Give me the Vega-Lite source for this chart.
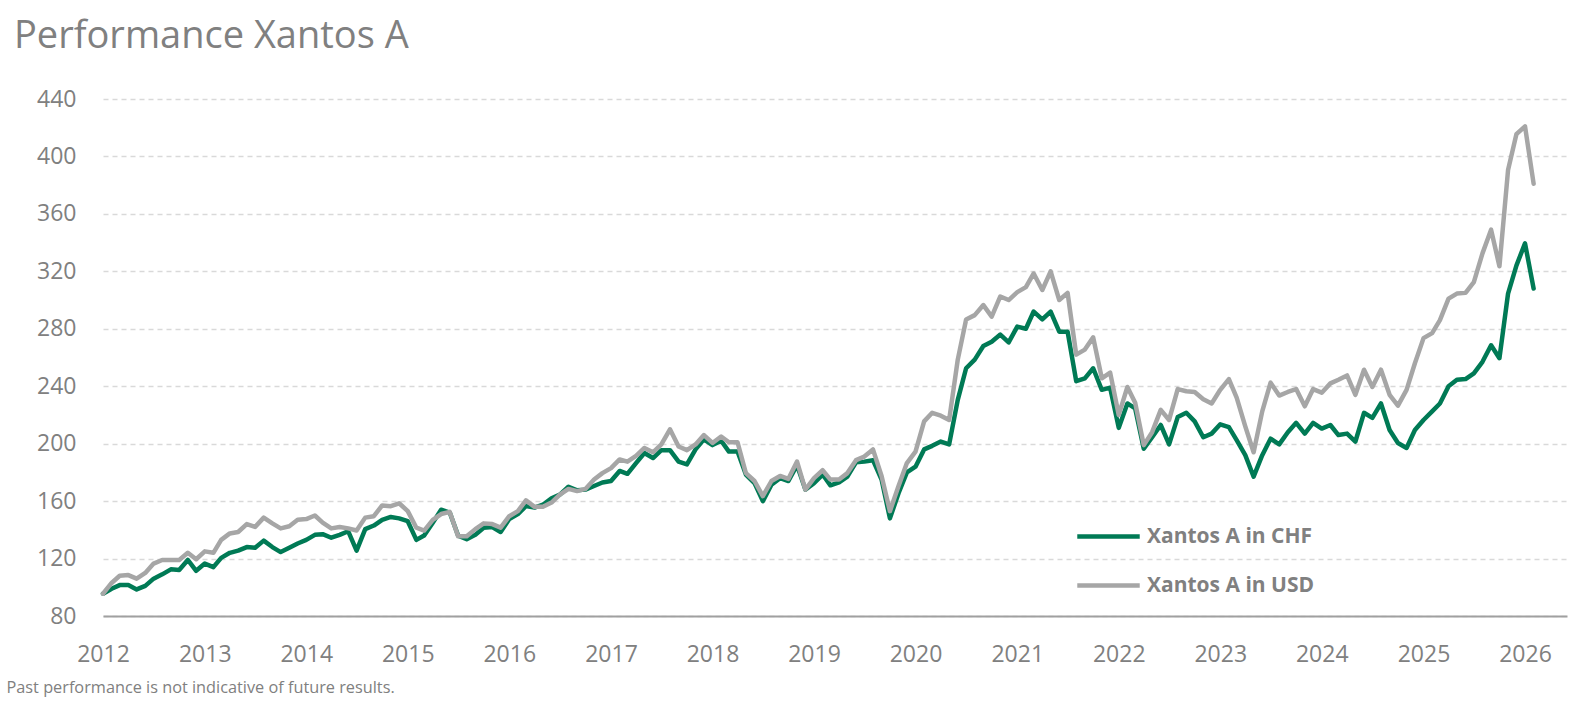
{
  "$schema": "https://vega.github.io/schema/vega-lite/v6.json",
  "width": 1464,
  "height": 517,
  "autosize": {"type": "none"},
  "padding": {"left": 103, "top": 99, "right": 15, "bottom": 85},
  "background": "white",
  "config": {"font": "Open Sans", "view": {"stroke": null}},
  "title": {
    "text": "Performance Xantos A",
    "anchor": "start",
    "frame": "group",
    "dx": -89,
    "offset": 32,
    "fontSize": 38,
    "fontWeight": "normal",
    "color": "#808080",
    "font": "Open Sans"
  },
  "data": {
    "values": [
      {"d": "2012-01", "CHF": 95.5, "USD": 95.5},
      {"d": "2012-02", "CHF": 99, "USD": 103},
      {"d": "2012-03", "CHF": 101.5, "USD": 108},
      {"d": "2012-04", "CHF": 101.5, "USD": 108.5},
      {"d": "2012-05", "CHF": 98.5, "USD": 106},
      {"d": "2012-06", "CHF": 101, "USD": 110},
      {"d": "2012-07", "CHF": 106, "USD": 116.5},
      {"d": "2012-08", "CHF": 109, "USD": 119},
      {"d": "2012-09", "CHF": 112.5, "USD": 119},
      {"d": "2012-10", "CHF": 112, "USD": 119},
      {"d": "2012-11", "CHF": 119, "USD": 124},
      {"d": "2012-12", "CHF": 111.5, "USD": 119.5},
      {"d": "2013-01", "CHF": 116.5, "USD": 125},
      {"d": "2013-02", "CHF": 114, "USD": 124},
      {"d": "2013-03", "CHF": 120.5, "USD": 133},
      {"d": "2013-04", "CHF": 124, "USD": 137.5},
      {"d": "2013-05", "CHF": 125.5, "USD": 138.5},
      {"d": "2013-06", "CHF": 128, "USD": 144},
      {"d": "2013-07", "CHF": 127.5, "USD": 142},
      {"d": "2013-08", "CHF": 132.5, "USD": 148.5},
      {"d": "2013-09", "CHF": 128, "USD": 144.5},
      {"d": "2013-10", "CHF": 124.5, "USD": 141},
      {"d": "2013-11", "CHF": 127.5, "USD": 142.5},
      {"d": "2013-12", "CHF": 130.5, "USD": 147},
      {"d": "2014-01", "CHF": 133, "USD": 147.5},
      {"d": "2014-02", "CHF": 136.5, "USD": 150},
      {"d": "2014-03", "CHF": 137, "USD": 145},
      {"d": "2014-04", "CHF": 134.5, "USD": 141},
      {"d": "2014-05", "CHF": 136.5, "USD": 142},
      {"d": "2014-06", "CHF": 139, "USD": 141},
      {"d": "2014-07", "CHF": 125.5, "USD": 139.5},
      {"d": "2014-08", "CHF": 140.5, "USD": 148.5},
      {"d": "2014-09", "CHF": 143, "USD": 149.5},
      {"d": "2014-10", "CHF": 147, "USD": 157},
      {"d": "2014-11", "CHF": 149, "USD": 156.5},
      {"d": "2014-12", "CHF": 148, "USD": 158.5},
      {"d": "2015-01", "CHF": 146, "USD": 153},
      {"d": "2015-02", "CHF": 133, "USD": 141.5},
      {"d": "2015-03", "CHF": 136, "USD": 139.5},
      {"d": "2015-04", "CHF": 145, "USD": 147},
      {"d": "2015-05", "CHF": 154, "USD": 151},
      {"d": "2015-06", "CHF": 152, "USD": 152.5},
      {"d": "2015-07", "CHF": 136, "USD": 135.5},
      {"d": "2015-08", "CHF": 133.5, "USD": 135.5},
      {"d": "2015-09", "CHF": 136.5, "USD": 140.5},
      {"d": "2015-10", "CHF": 141.5, "USD": 144.5},
      {"d": "2015-11", "CHF": 142, "USD": 144},
      {"d": "2015-12", "CHF": 138.5, "USD": 141.5},
      {"d": "2016-01", "CHF": 147.5, "USD": 149.5},
      {"d": "2016-02", "CHF": 151, "USD": 153},
      {"d": "2016-03", "CHF": 156.5, "USD": 160.5},
      {"d": "2016-04", "CHF": 155.5, "USD": 156},
      {"d": "2016-05", "CHF": 157.5, "USD": 156},
      {"d": "2016-06", "CHF": 162, "USD": 159},
      {"d": "2016-07", "CHF": 164.5, "USD": 164.5},
      {"d": "2016-08", "CHF": 170, "USD": 168.5},
      {"d": "2016-09", "CHF": 167.5, "USD": 167},
      {"d": "2016-10", "CHF": 168, "USD": 168.5},
      {"d": "2016-11", "CHF": 170.5, "USD": 175},
      {"d": "2016-12", "CHF": 173, "USD": 179.5},
      {"d": "2017-01", "CHF": 174, "USD": 183},
      {"d": "2017-02", "CHF": 181, "USD": 189},
      {"d": "2017-03", "CHF": 179, "USD": 187.5},
      {"d": "2017-04", "CHF": 186.5, "USD": 191.5},
      {"d": "2017-05", "CHF": 193.5, "USD": 197},
      {"d": "2017-06", "CHF": 190, "USD": 194},
      {"d": "2017-07", "CHF": 195.5, "USD": 199.5},
      {"d": "2017-08", "CHF": 195.5, "USD": 210},
      {"d": "2017-09", "CHF": 187.5, "USD": 198},
      {"d": "2017-10", "CHF": 185.5, "USD": 195.5},
      {"d": "2017-11", "CHF": 196, "USD": 199.5},
      {"d": "2017-12", "CHF": 203, "USD": 206},
      {"d": "2018-01", "CHF": 199, "USD": 200.5},
      {"d": "2018-02", "CHF": 202, "USD": 205},
      {"d": "2018-03", "CHF": 194.5, "USD": 201},
      {"d": "2018-04", "CHF": 194.5, "USD": 201},
      {"d": "2018-05", "CHF": 178.5, "USD": 179.5},
      {"d": "2018-06", "CHF": 172.5, "USD": 174},
      {"d": "2018-07", "CHF": 160, "USD": 163.5},
      {"d": "2018-08", "CHF": 171.5, "USD": 174},
      {"d": "2018-09", "CHF": 176, "USD": 177.5},
      {"d": "2018-10", "CHF": 174, "USD": 175.5},
      {"d": "2018-11", "CHF": 185, "USD": 187.5},
      {"d": "2018-12", "CHF": 168, "USD": 168},
      {"d": "2019-01", "CHF": 172.5, "USD": 176},
      {"d": "2019-02", "CHF": 178.5, "USD": 181.5},
      {"d": "2019-03", "CHF": 171, "USD": 175},
      {"d": "2019-04", "CHF": 173, "USD": 175},
      {"d": "2019-05", "CHF": 177, "USD": 179.5},
      {"d": "2019-06", "CHF": 187, "USD": 188.5},
      {"d": "2019-07", "CHF": 187.5, "USD": 191},
      {"d": "2019-08", "CHF": 188.5, "USD": 196},
      {"d": "2019-09", "CHF": 175, "USD": 177.5},
      {"d": "2019-10", "CHF": 148, "USD": 153},
      {"d": "2019-11", "CHF": 165.5, "USD": 170.5},
      {"d": "2019-12", "CHF": 180, "USD": 186.5},
      {"d": "2020-01", "CHF": 184, "USD": 194.5},
      {"d": "2020-02", "CHF": 196, "USD": 215.5},
      {"d": "2020-03", "CHF": 198.5, "USD": 221.5},
      {"d": "2020-04", "CHF": 201.5, "USD": 219.5},
      {"d": "2020-05", "CHF": 199.5, "USD": 216.5},
      {"d": "2020-06", "CHF": 230.5, "USD": 258.5},
      {"d": "2020-07", "CHF": 252.5, "USD": 286.5},
      {"d": "2020-08", "CHF": 258.5, "USD": 289.5},
      {"d": "2020-09", "CHF": 268, "USD": 296.5},
      {"d": "2020-10", "CHF": 271, "USD": 288.5},
      {"d": "2020-11", "CHF": 276, "USD": 302.5},
      {"d": "2020-12", "CHF": 270.5, "USD": 300},
      {"d": "2021-01", "CHF": 281.5, "USD": 305.5},
      {"d": "2021-02", "CHF": 280, "USD": 309},
      {"d": "2021-03", "CHF": 292, "USD": 318.5},
      {"d": "2021-04", "CHF": 286.5, "USD": 307},
      {"d": "2021-05", "CHF": 292, "USD": 320},
      {"d": "2021-06", "CHF": 278, "USD": 300},
      {"d": "2021-07", "CHF": 278, "USD": 305},
      {"d": "2021-08", "CHF": 243.5, "USD": 262},
      {"d": "2021-09", "CHF": 245.5, "USD": 265.5},
      {"d": "2021-10", "CHF": 252.5, "USD": 274},
      {"d": "2021-11", "CHF": 237.5, "USD": 245.5},
      {"d": "2021-12", "CHF": 239, "USD": 249.5},
      {"d": "2022-01", "CHF": 211, "USD": 220},
      {"d": "2022-02", "CHF": 228, "USD": 239.5},
      {"d": "2022-03", "CHF": 224.5, "USD": 228.5},
      {"d": "2022-04", "CHF": 196.5, "USD": 199},
      {"d": "2022-05", "CHF": 204.5, "USD": 208},
      {"d": "2022-06", "CHF": 213, "USD": 223.5},
      {"d": "2022-07", "CHF": 199.5, "USD": 216.5},
      {"d": "2022-08", "CHF": 218.5, "USD": 238},
      {"d": "2022-09", "CHF": 221.5, "USD": 236.5},
      {"d": "2022-10", "CHF": 215.5, "USD": 236},
      {"d": "2022-11", "CHF": 204.5, "USD": 231},
      {"d": "2022-12", "CHF": 207, "USD": 228},
      {"d": "2023-01", "CHF": 213.5, "USD": 237.5},
      {"d": "2023-02", "CHF": 211.5, "USD": 245},
      {"d": "2023-03", "CHF": 202.5, "USD": 232},
      {"d": "2023-04", "CHF": 192, "USD": 212},
      {"d": "2023-05", "CHF": 177, "USD": 194},
      {"d": "2023-06", "CHF": 192, "USD": 222.5},
      {"d": "2023-07", "CHF": 203.5, "USD": 242.5},
      {"d": "2023-08", "CHF": 199.5, "USD": 233.5},
      {"d": "2023-09", "CHF": 208, "USD": 236},
      {"d": "2023-10", "CHF": 214.5, "USD": 238},
      {"d": "2023-11", "CHF": 207, "USD": 226},
      {"d": "2023-12", "CHF": 214.5, "USD": 238},
      {"d": "2024-01", "CHF": 210.5, "USD": 235.5},
      {"d": "2024-02", "CHF": 213, "USD": 242},
      {"d": "2024-03", "CHF": 206, "USD": 244.5},
      {"d": "2024-04", "CHF": 207, "USD": 247.5},
      {"d": "2024-05", "CHF": 201.5, "USD": 234},
      {"d": "2024-06", "CHF": 221.5, "USD": 251.5},
      {"d": "2024-07", "CHF": 218, "USD": 239.5},
      {"d": "2024-08", "CHF": 228, "USD": 251.5},
      {"d": "2024-09", "CHF": 209.5, "USD": 234},
      {"d": "2024-10", "CHF": 200.5, "USD": 226.5},
      {"d": "2024-11", "CHF": 197, "USD": 237.5},
      {"d": "2024-12", "CHF": 209.5, "USD": 256},
      {"d": "2025-01", "CHF": 216.5, "USD": 273.5},
      {"d": "2025-02", "CHF": 222.5, "USD": 277},
      {"d": "2025-03", "CHF": 228, "USD": 286},
      {"d": "2025-04", "CHF": 240, "USD": 301},
      {"d": "2025-05", "CHF": 244.5, "USD": 304.5},
      {"d": "2025-06", "CHF": 245, "USD": 305},
      {"d": "2025-07", "CHF": 249, "USD": 312.5},
      {"d": "2025-08", "CHF": 257, "USD": 332.5},
      {"d": "2025-09", "CHF": 268.5, "USD": 349},
      {"d": "2025-10", "CHF": 259.5, "USD": 323.5},
      {"d": "2025-11", "CHF": 304.5, "USD": 390.5},
      {"d": "2025-12", "CHF": 324, "USD": 415.5},
      {"d": "2026-01", "CHF": 339.5, "USD": 421},
      {"d": "2026-02", "CHF": 308, "USD": 381}
    ]
  },
  "transform": [{"fold": ["CHF", "USD"], "as": ["series", "value"]}],
  "mark": {"type": "line", "strokeWidth": 4.5, "strokeJoin": "round", "strokeCap": "round"},
  "encoding": {
    "x": {
      "field": "d",
      "type": "temporal",
      "scale": {"domain": [{"year": 2012, "month": 1, "date": 1}, {"year": 2026, "month": 6, "date": 1}]},
      "axis": {
        "title": "Past performance is not indicative of future results.",
        "titleAnchor": "start",
        "titleAlign": "left",
        "titleX": -97,
        "titleY": 76,
        "titleBaseline": "alphabetic",
        "titleFontSize": 16.3,
        "titleFontWeight": "normal",
        "titleColor": "#808080",
        "format": "%Y",
        "tickCount": {"interval": "year", "step": 1},
        "labelFontSize": 23,
        "labelColor": "#808080",
        "labelPadding": 27,
        "labelFlush": false,
        "labelOverlap": false,
        "ticks": false,
        "grid": false,
        "domainColor": "#A0A0A0",
        "domainWidth": 2
      }
    },
    "y": {
      "field": "value",
      "type": "quantitative",
      "scale": {"domain": [80, 440], "nice": false, "zero": false},
      "axis": {
        "title": null,
        "values": [80, 120, 160, 200, 240, 280, 320, 360, 400, 440],
        "labelFontSize": 23,
        "labelColor": "#808080",
        "labelPadding": 27,
        "ticks": false,
        "domain": false,
        "gridColor": "#D9D9D9",
        "gridDash": [5, 4],
        "gridWidth": 1.3
      }
    },
    "color": {
      "field": "series",
      "type": "nominal",
      "scale": {"domain": ["CHF", "USD"], "range": ["#007A55", "#A6A6A6"]},
      "legend": {
        "title": null,
        "orient": "none",
        "legendX": 972,
        "legendY": 404,
        "labelExpr": "'Xantos A in ' + datum.label",
        "symbolType": "stroke",
        "symbolSize": 3900,
        "symbolStrokeWidth": 4.5,
        "labelFontSize": 21,
        "labelFontWeight": "bold",
        "labelColor": "#808080",
        "labelOffset": 5,
        "labelLimit": 400,
        "rowPadding": 5
      }
    }
  }
}
